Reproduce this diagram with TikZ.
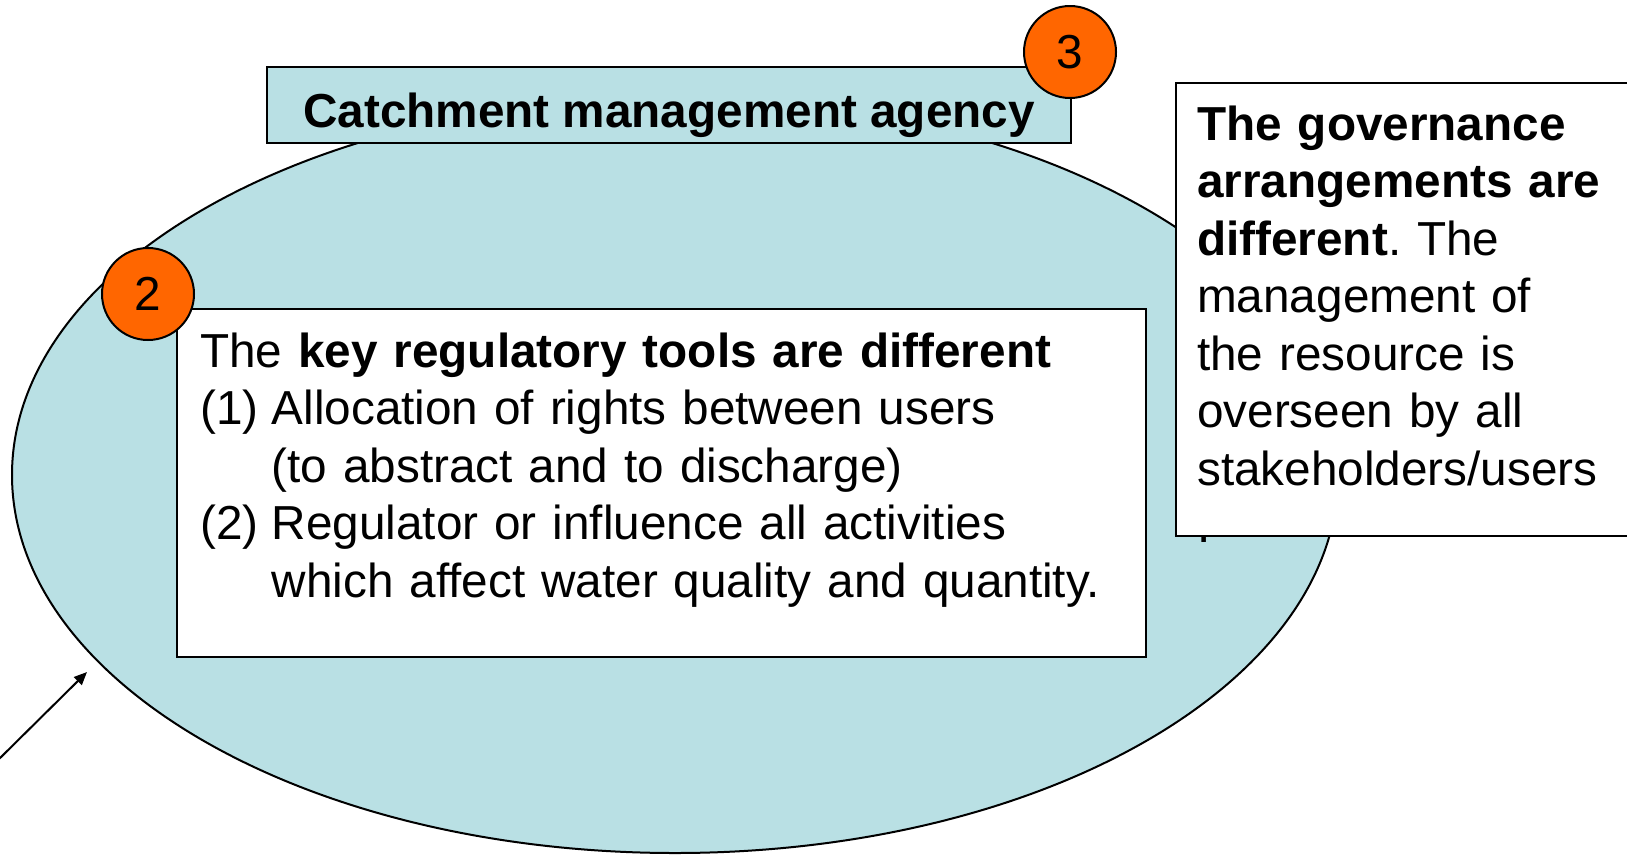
\documentclass[tikz,border=0pt]{standalone}
\usepackage{fontspec}
\setmainfont{Liberation Sans}
\usetikzlibrary{shapes, shapes.geometric, arrows.meta, positioning}
\definecolor{lightteal}{RGB}{185,224,228}
\definecolor{badgeorange}{RGB}{255,102,0}
\newcommand{\bigtext}{\fontsize{47.7}{57.5}\selectfont\frenchspacing}
\newcommand{\numlabel}[1]{\makebox[1.5em][l]{#1}}

\begin{document}
\begin{tikzpicture}[x=1pt, y=-1pt,
  badge/.style={draw, circle, fill=badgeorange, line width=2pt, minimum size=92pt, inner sep=0, font=\bigtext},
  infobox/.style={draw, fill=white, line width=2pt, inner sep=0},
  boxtext/.style={anchor=base west, inner sep=0, align=left, font=\bigtext}]
\useasboundingbox (0,0) rectangle (1627,855);
\node[draw, ellipse, fill=lightteal, line width=2pt, minimum width=1326pt, minimum height=756pt, inner sep=0] (basin) at (675,475) {};
\node[draw, fill=lightteal, line width=2pt, minimum width=804pt, minimum height=76pt, inner sep=0, text height=54pt, text depth=10pt, font=\bigtext\bfseries] (agency) at (669,105) {Catchment management agency};
\node[badge] (b3) at (1070,52) {3};
\node[infobox, minimum width=969pt, minimum height=348pt] (tools) at (661.5,483) {};
\node[boxtext, text width=930pt] (toolstext) at (200,367) {The \textbf{key regulatory tools are different}\\
  \numlabel{(1)}Allocation of rights between users\\
  \numlabel{}(to abstract and to discharge)\\
  \numlabel{(2)}Regulator or influence all activities\\
  \numlabel{}which affect water quality and quantity.};
\node[badge] (b2) at (148,294) {2};
\node[infobox, anchor=north west, minimum width=600pt, minimum height=453pt] (gov) at (1175,82) {};
\node[boxtext, text width=420pt] (govtext) at (1197,140) {\textbf{The governance}\\
  \textbf{arrangements are}\\
  \textbf{different}. The\\
  management of\\
  the resource is\\
  overseen by all\\
  stakeholders/users\\
  .};
\coordinate (tail) at (-6,764);
\coordinate (head) at (87,672);
\draw[-{Triangle[length=13pt, width=11pt]}, line width=2pt] (tail) -- (head);
\end{tikzpicture}
\end{document}
